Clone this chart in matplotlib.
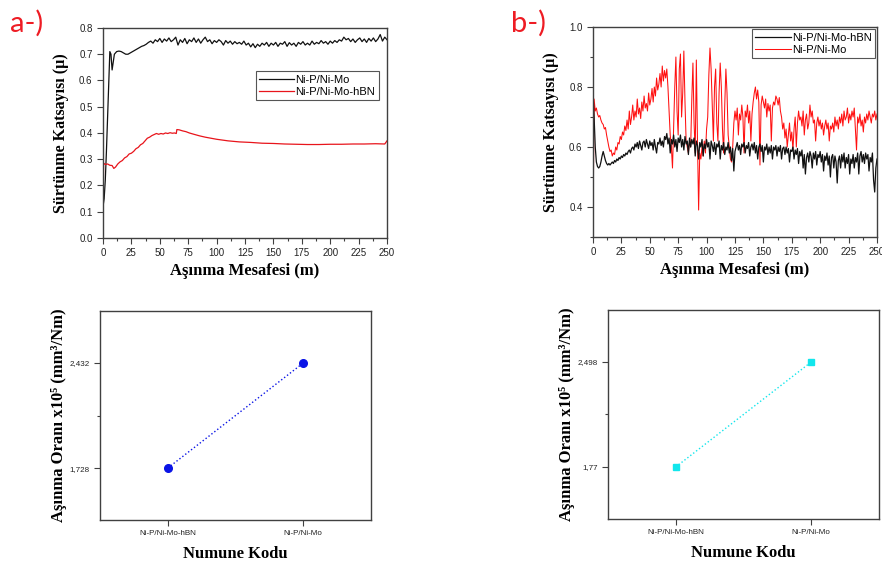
import numpy as np
import matplotlib
matplotlib.use('Agg')
import matplotlib.pyplot as plt
from matplotlib.ticker import MultipleLocator

# --- a-) friction coefficient vs sliding distance
a_mo_x = [0, 1, 2, 3, 4, 5, 6, 7, 8, 9,
          10, 12, 14, 16, 18, 20, 22, 24, 26, 28,
          30, 32, 34, 36, 38, 40, 42, 44, 46, 48,
          50, 52, 54, 56, 58, 60, 62, 64, 66, 68,
          70, 72, 74, 76, 78, 80, 82, 84, 86, 88,
          90, 92, 94, 96, 98, 100, 102, 104, 106, 108,
          110, 112, 114, 116, 118, 120, 122, 124, 126, 128,
          130, 132, 134, 136, 138, 140, 142, 144, 146, 148,
          150, 152, 154, 156, 158, 160, 162, 164, 166, 168,
          170, 172, 174, 176, 178, 180, 182, 184, 186, 188,
          190, 192, 194, 196, 198, 200, 202, 204, 206, 208,
          210, 212, 214, 216, 218, 220, 222, 224, 226, 228,
          230, 232, 234, 236, 238, 240, 242, 244, 246, 248,
          250]
a_mo_y = [0.12, 0.15, 0.22, 0.33, 0.46, 0.60, 0.71, 0.70, 0.64, 0.67,
          0.70, 0.71, 0.712, 0.71, 0.705, 0.70, 0.70, 0.705, 0.71, 0.715,
          0.72, 0.725, 0.73, 0.733, 0.738, 0.745, 0.75, 0.742, 0.755, 0.748,
          0.76, 0.745, 0.758, 0.75, 0.762, 0.748, 0.755, 0.765, 0.735, 0.755,
          0.745, 0.76, 0.74, 0.755, 0.748, 0.762, 0.745, 0.758, 0.742, 0.755,
          0.765, 0.748, 0.755, 0.74, 0.752, 0.745, 0.755, 0.748, 0.735, 0.752,
          0.742, 0.75, 0.738, 0.748, 0.74, 0.745, 0.738, 0.75, 0.735, 0.742,
          0.728, 0.74, 0.725, 0.738, 0.73, 0.742, 0.735, 0.745, 0.73, 0.742,
          0.735, 0.745, 0.73, 0.742, 0.738, 0.748, 0.73, 0.744, 0.735, 0.742,
          0.73, 0.745, 0.738, 0.748, 0.735, 0.742, 0.735, 0.75, 0.738, 0.745,
          0.74, 0.752, 0.742, 0.748, 0.738, 0.75, 0.742, 0.752, 0.745, 0.755,
          0.75, 0.765, 0.755, 0.76, 0.748, 0.758, 0.745, 0.755, 0.762, 0.748,
          0.758, 0.745, 0.76, 0.75, 0.762, 0.748, 0.758, 0.775, 0.75, 0.765,
          0.755]

a_hbn_x = [0, 0.5, 2, 4, 6, 8, 9.5, 11, 13, 15,
           17, 19, 21, 23, 25, 27, 29, 31, 33, 35,
           37, 39, 41, 43, 45, 47, 49, 51, 53, 55,
           57, 59, 61, 63, 64.5, 65, 67, 70, 73, 76,
           80, 85, 90, 95, 100, 105, 110, 115, 120, 130,
           140, 150, 160, 170, 180, 190, 200, 210, 220, 230,
           240, 248, 250]
a_hbn_y = [0.12, 0.285, 0.28, 0.282, 0.277, 0.276, 0.265, 0.27, 0.282, 0.29,
           0.295, 0.305, 0.31, 0.32, 0.323, 0.33, 0.34, 0.345, 0.355, 0.36,
           0.37, 0.38, 0.384, 0.39, 0.394, 0.398, 0.395, 0.398, 0.396, 0.40,
           0.398, 0.401, 0.399, 0.40, 0.398, 0.413, 0.412, 0.408, 0.405, 0.40,
           0.395, 0.389, 0.384, 0.38, 0.376, 0.373, 0.37, 0.368, 0.366, 0.364,
           0.361, 0.36, 0.358, 0.357, 0.356, 0.356, 0.357, 0.357, 0.358, 0.358,
           0.359, 0.358, 0.37]

# --- b-) friction coefficient, one sample per metre (0..250 m)
b_hbn_y = [0.78, 0.70, 0.60, 0.55, 0.535, 0.53, 0.535, 0.55, 0.57, 0.585,
           0.57, 0.555, 0.545, 0.54, 0.545, 0.54, 0.545, 0.55, 0.545, 0.555,
           0.55, 0.56, 0.555, 0.565, 0.56, 0.57, 0.565, 0.575, 0.57, 0.58,
           0.575, 0.585, 0.59, 0.58, 0.595, 0.60, 0.59, 0.61, 0.60, 0.615,
           0.595, 0.62, 0.605, 0.59, 0.615, 0.62, 0.60, 0.625, 0.61, 0.595,
           0.62, 0.605, 0.615, 0.59, 0.625, 0.60, 0.58, 0.615, 0.61, 0.63,
           0.605, 0.62, 0.60, 0.635, 0.625, 0.645, 0.61, 0.63, 0.58, 0.625,
           0.61, 0.64, 0.60, 0.625, 0.585, 0.63, 0.615, 0.64, 0.60, 0.625,
           0.59, 0.635, 0.61, 0.62, 0.575, 0.63, 0.60, 0.625, 0.61, 0.63,
           0.57, 0.62, 0.605, 0.56, 0.615, 0.60, 0.625, 0.57, 0.61, 0.595,
           0.625, 0.60, 0.615, 0.56, 0.62, 0.605, 0.585, 0.615, 0.575, 0.61,
           0.60, 0.62, 0.56, 0.605, 0.59, 0.615, 0.575, 0.60, 0.59, 0.615,
           0.58, 0.60, 0.555, 0.595, 0.52, 0.585, 0.60, 0.615, 0.59, 0.605,
           0.575, 0.61, 0.60, 0.615, 0.58, 0.605, 0.595, 0.615, 0.57, 0.60,
           0.61, 0.59, 0.615, 0.58, 0.605, 0.56, 0.60, 0.61, 0.585, 0.605,
           0.55, 0.60, 0.59, 0.61, 0.575, 0.60, 0.58, 0.605, 0.56, 0.60,
           0.59, 0.605, 0.57, 0.60, 0.585, 0.605, 0.56, 0.595, 0.60, 0.575,
           0.60, 0.58, 0.595, 0.55, 0.59, 0.585, 0.60, 0.56, 0.59, 0.575,
           0.595, 0.545, 0.585, 0.57, 0.59, 0.53, 0.575, 0.51, 0.565, 0.58,
           0.55, 0.585, 0.57, 0.53, 0.58, 0.56, 0.585, 0.54, 0.575, 0.565,
           0.585, 0.55, 0.575, 0.52, 0.57, 0.555, 0.58, 0.54, 0.57, 0.50,
           0.565, 0.575, 0.53, 0.57, 0.55, 0.48, 0.555, 0.57, 0.53, 0.575,
           0.55, 0.58, 0.53, 0.565, 0.545, 0.575, 0.51, 0.56, 0.545, 0.575,
           0.53, 0.565, 0.55, 0.58, 0.51, 0.57, 0.585, 0.55, 0.575, 0.545,
           0.58, 0.56, 0.575, 0.52, 0.565, 0.55, 0.58, 0.49, 0.45, 0.53,
           0.56]
b_mo_y = [0.30, 0.76, 0.72, 0.73, 0.71, 0.70, 0.705, 0.69, 0.68, 0.675,
          0.66, 0.665, 0.64, 0.62, 0.60, 0.585, 0.59, 0.57, 0.58, 0.575,
          0.60, 0.59, 0.615, 0.61, 0.635, 0.625, 0.65, 0.64, 0.67, 0.655,
          0.69, 0.66, 0.72, 0.675, 0.70, 0.74, 0.69, 0.72, 0.70, 0.76,
          0.71, 0.73, 0.695, 0.75, 0.72, 0.77, 0.73, 0.745, 0.72, 0.78,
          0.74, 0.76, 0.795, 0.75, 0.80, 0.77, 0.83, 0.79, 0.81, 0.845,
          0.80, 0.87, 0.82, 0.855, 0.83, 0.86, 0.80, 0.72, 0.64, 0.60,
          0.53, 0.66, 0.80, 0.90, 0.72, 0.64, 0.86, 0.91, 0.70, 0.78,
          0.92, 0.75, 0.62, 0.60, 0.58, 0.62, 0.60, 0.76, 0.88, 0.68,
          0.58, 0.89, 0.62, 0.39, 0.58, 0.56, 0.60, 0.57, 0.62, 0.58,
          0.66, 0.70, 0.84, 0.93, 0.86, 0.74, 0.62, 0.80, 0.86, 0.68,
          0.62, 0.78, 0.88, 0.80, 0.66, 0.58, 0.74, 0.86, 0.78, 0.64,
          0.60, 0.56, 0.55, 0.60, 0.68, 0.72, 0.69, 0.73, 0.64, 0.71,
          0.69, 0.74, 0.70, 0.58, 0.72, 0.70, 0.74, 0.68, 0.72, 0.62,
          0.71, 0.75, 0.78, 0.80, 0.76, 0.79, 0.75, 0.54, 0.74, 0.77,
          0.75, 0.73, 0.76, 0.70, 0.745, 0.72, 0.74, 0.62, 0.73, 0.75,
          0.74, 0.77, 0.76, 0.74, 0.765, 0.72, 0.70, 0.66, 0.68, 0.63,
          0.66, 0.60, 0.64, 0.68, 0.62, 0.65, 0.59, 0.66, 0.70, 0.60,
          0.68, 0.72, 0.69, 0.70, 0.67, 0.72, 0.64, 0.69, 0.71, 0.66,
          0.68, 0.74, 0.70, 0.72, 0.68, 0.69, 0.62, 0.68, 0.70, 0.67,
          0.69, 0.66, 0.68, 0.64, 0.67, 0.69, 0.66, 0.68, 0.62, 0.67,
          0.66, 0.68, 0.65, 0.70, 0.67, 0.69, 0.66, 0.70, 0.68, 0.71,
          0.67, 0.72, 0.69, 0.70, 0.73, 0.68, 0.71, 0.69, 0.72, 0.70,
          0.73, 0.66, 0.59, 0.70, 0.68, 0.71, 0.67, 0.69, 0.65, 0.70,
          0.68, 0.71, 0.69, 0.72, 0.70, 0.68, 0.71, 0.70, 0.72, 0.69,
          0.71]

# --- wear rates
samples = ['Ni-P/Ni-Mo-hBN', 'Ni-P/Ni-Mo']
wear_a = [1.728, 2.432]
wear_a_labels = ['1,728', '2,432']
wear_b = [1.77, 2.498]
wear_b_labels = ['1,77', '2,498']

SERIF = ['Liberation Serif', 'DejaVu Serif']
SANS = ['Liberation Sans', 'DejaVu Sans']
SPINE = '#404040'


def style_axes(ax, labelsize):
    for s in ax.spines.values():
        s.set_color(SPINE)
        s.set_linewidth(1.0)
    ax.tick_params(which='both', direction='out', top=False, right=False,
                   color=SPINE, labelsize=labelsize, labelcolor='#222222')
    ax.tick_params(which='major', length=4, width=0.8)
    ax.tick_params(which='minor', length=2.5, width=0.8)
    for lab in ax.get_xticklabels() + ax.get_yticklabels():
        lab.set_family(SANS)


def friction_axes(ax):
    ax.set_xlim(0, 250)
    ax.xaxis.set_major_locator(MultipleLocator(25))
    ax.xaxis.set_minor_locator(MultipleLocator(12.5))
    ax.set_xlabel('Aşınma Mesafesi (m)', family=SERIF, weight='bold', fontsize=12, labelpad=3)
    ax.set_ylabel('Sürtünme Katsayısı (µ)', family=SERIF, weight='bold', fontsize=11.5, labelpad=7)
    style_axes(ax, 7)


def wear_axes(ax, vals, labels, ylim, color, marker, ms):
    ax.plot(range(len(samples)), vals, linestyle=':', color=color, linewidth=1.0,
            marker=marker, markersize=ms, markerfacecolor=color, markeredgecolor=color)
    ax.set_xlim(-0.5, 1.5)
    ax.set_ylim(*ylim)
    ax.set_xticks(range(len(samples)))
    ax.set_xticklabels(samples)
    ax.set_yticks(vals)
    ax.set_yticklabels(labels)
    ax.set_yticks([np.mean(vals)], minor=True)
    ax.set_xlabel('Numune Kodu', family=SERIF, weight='bold', fontsize=12, labelpad=6)
    ax.set_ylabel('Aşınma Oranı x10⁵ (mm³/Nm)', family=SERIF, weight='bold', fontsize=12, labelpad=2)
    style_axes(ax, 5.8)


def main():
    fig = plt.figure(figsize=(8.82, 5.65), dpi=100)
    fig.patch.set_facecolor('white')

    # a-) friction
    ax1 = fig.add_axes([0.1168, 0.5788, 0.322, 0.3717])
    ax1.plot(a_mo_x, a_mo_y, color='#111111', linewidth=0.9, label='Ni-P/Ni-Mo')
    ax1.plot(a_hbn_x, a_hbn_y, color='#e8141b', linewidth=0.9, label='Ni-P/Ni-Mo-hBN')
    ax1.set_ylim(0.0, 0.8)
    ax1.yaxis.set_major_locator(MultipleLocator(0.1))
    friction_axes(ax1)
    leg = ax1.legend(loc='upper right', bbox_to_anchor=(0.99, 0.82), fancybox=False,
                     edgecolor='#555555', framealpha=1, prop={'family': SANS, 'size': 8},
                     handlelength=3.2, handletextpad=0.1, borderpad=0.3, labelspacing=0.2)
    leg.get_frame().set_linewidth(0.8)

    # b-) friction
    ax2 = fig.add_axes([0.6723, 0.5805, 0.322, 0.3717])
    l_mo, = ax2.plot(np.arange(len(b_mo_y)), b_mo_y, color='#ff1010', linewidth=0.75, label='Ni-P/Ni-Mo')
    l_hbn, = ax2.plot(np.arange(len(b_hbn_y)), b_hbn_y, color='#111111', linewidth=0.9, label='Ni-P/Ni-Mo-hBN')
    ax2.set_ylim(0.3, 1.0)
    ax2.yaxis.set_major_locator(MultipleLocator(0.2))
    ax2.yaxis.set_minor_locator(MultipleLocator(0.1))
    friction_axes(ax2)
    ax2.yaxis.set_major_formatter(matplotlib.ticker.FormatStrFormatter('%.1f'))
    leg2 = ax2.legend(handles=[l_hbn, l_mo], loc='upper right', bbox_to_anchor=(1.0, 1.0),
                      fancybox=False, edgecolor='#555555', framealpha=1,
                      prop={'family': SANS, 'size': 8}, handlelength=3.2,
                      handletextpad=0.1, borderpad=0.3, labelspacing=0.2, borderaxespad=0.2)
    leg2.get_frame().set_linewidth(0.8)

    # wear rate panels
    ax3 = fig.add_axes([0.1134, 0.0796, 0.3073, 0.37])
    wear_axes(ax3, wear_a, wear_a_labels, (1.38, 2.78), '#0a14e6', 'o', 5.5)

    ax4 = fig.add_axes([0.6893, 0.0814, 0.3073, 0.37])
    wear_axes(ax4, wear_b, wear_b_labels, (1.4095, 2.8585), '#12e6ec', 's', 4)

    # panel tags
    fig.text(0.011, 0.982, 'a-)', color='#ee1c24', fontsize=21, family=['Lato', 'DejaVu Sans'],
             va='top', ha='left')
    fig.text(0.579, 0.982, 'b-)', color='#ee1c24', fontsize=21, family=['Lato', 'DejaVu Sans'],
             va='top', ha='left')

    plt.savefig('out.png', dpi=100, facecolor='white')


if __name__ == '__main__':
    main()
